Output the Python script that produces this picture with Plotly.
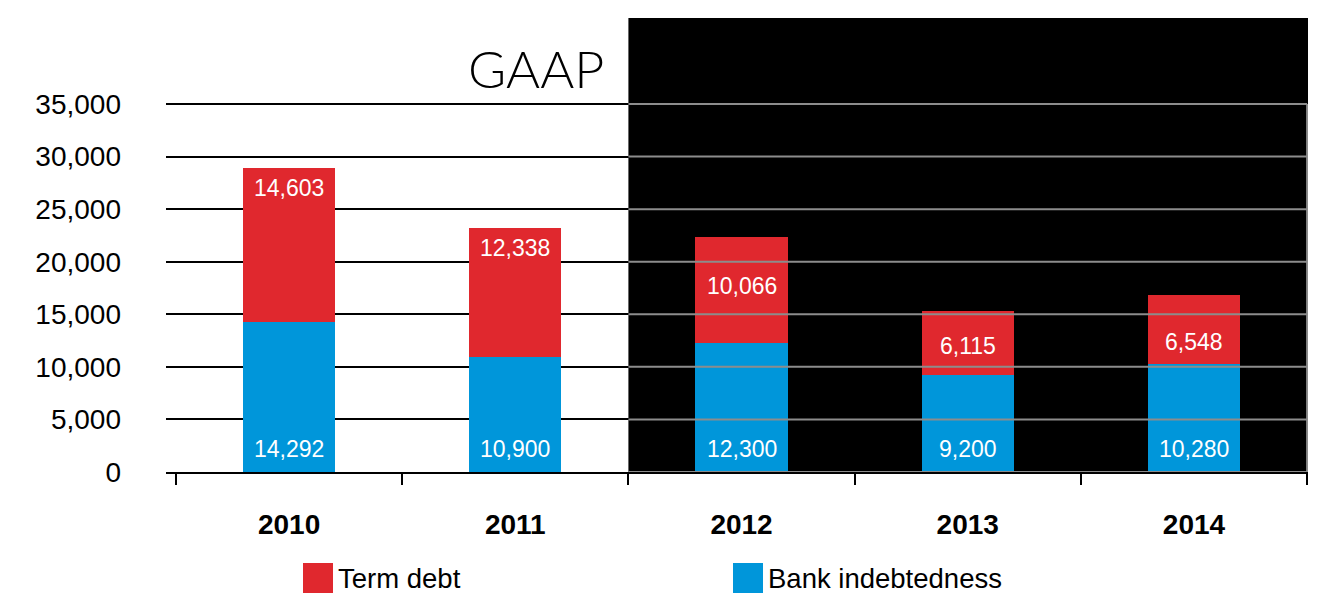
import plotly.graph_objects as go

# ---------------- data ----------------
years = ["2010", "2011", "2012", "2013", "2014"]
bank_indebtedness = [14292, 10900, 12300, 9200, 10280]
term_debt = [14603, 12338, 10066, 6115, 6548]
y_ticks = [0, 5000, 10000, 15000, 20000, 25000, 30000, 35000]
series_names = ["Term debt", "Bank indebtedness"]
title_text = "GAAP"

# ---------------- style ----------------
RED = "#E0282E"
BLUE = "#0096DA"
GRAY = "#8C8C8C"
FONT = "Liberation Sans, Arial, sans-serif"
W, H = 1320, 595
L, R, T, B = 166, 12, 18, 123
red_label_drop = [20, 20, 49, 35, 47]   # px below bar top for term-debt labels

xpos = list(range(len(years)))
x_range = [-0.544, len(years) - 0.496]
y_top = 35000 * (H - B - T) / 368.0
dark_from = 1.5  # category boundary where the dark panel starts

fig = go.Figure()
fig.add_trace(go.Bar(x=xpos, y=bank_indebtedness, name=series_names[1],
                     marker=dict(color=BLUE, line=dict(width=0)), width=0.407,
                     showlegend=False, hoverinfo="skip"))
fig.add_trace(go.Bar(x=xpos, y=term_debt, name=series_names[0],
                     marker=dict(color=RED, line=dict(width=0)), width=0.407,
                     showlegend=False, hoverinfo="skip"))

# value labels
for i, x in enumerate(xpos):
    fig.add_annotation(x=x, y=0, xref="x", yref="y", text=f"{bank_indebtedness[i]:,}",
                       showarrow=False, yanchor="bottom", yshift=8,
                       font=dict(family=FONT, size=23, color="white"))
    total = bank_indebtedness[i] + term_debt[i]
    fig.add_annotation(x=x, y=total, xref="x", yref="y", text=f"{term_debt[i]:,}",
                       showarrow=False, yanchor="middle", yshift=-red_label_drop[i],
                       font=dict(family=FONT, size=23, color="white"))

shapes = []
# dark panel
shapes.append(dict(type="rect", xref="x", yref="paper", x0=dark_from, x1=x_range[1],
                   y0=0, y1=1, fillcolor="black", line=dict(width=0), layer="below"))
# gray grid lines over the dark panel
for v in y_ticks:
    shapes.append(dict(type="line", xref="x", yref="y", x0=dark_from, x1=len(years) - 0.5,
                       y0=v, y1=v, line=dict(color=GRAY, width=2), layer="above"))
shapes.append(dict(type="line", xref="x", yref="y", x0=len(years) - 0.5, x1=len(years) - 0.5,
                   y0=0, y1=y_ticks[-1], line=dict(color=GRAY, width=2), layer="above"))

# legend (manual, to get large square keys)
def px_x(p):
    return (p - L) / (W - L - R)

def px_y(p):
    return (H - B - p) / (H - B - T)

legend_items = [(series_names[0], RED, 303), (series_names[1], BLUE, 733)]
for name, col, x0 in legend_items:
    shapes.append(dict(type="rect", xref="paper", yref="paper",
                       x0=px_x(x0), x1=px_x(x0 + 30), y0=px_y(563), y1=px_y(593),
                       fillcolor=col, line=dict(width=0)))
    fig.add_annotation(xref="paper", yref="paper", x=px_x(x0 + 33), y=px_y(578),
                       xanchor="left", yanchor="middle", text=name, showarrow=False,
                       font=dict(family=FONT, size=27.5, color="black"))

# title
fig.add_annotation(xref="paper", yref="paper", x=px_x(606), y=px_y(68),
                   xanchor="right", yanchor="middle", text=title_text, showarrow=False,
                   font=dict(family="Lato", size=52, color="black", weight=300))

fig.update_layout(
    width=W, height=H,
    margin=dict(l=L, r=R, t=T, b=B),
    barmode="stack",
    plot_bgcolor="white", paper_bgcolor="white",
    shapes=shapes,
    showlegend=False,
    xaxis=dict(range=x_range, tickmode="array", tickvals=xpos, ticktext=years,
               ticks="", showgrid=False, zeroline=False,
               showline=True, linecolor="black", linewidth=2,
               tickfont=dict(family=FONT, size=28, color="black", weight="bold"),
               ticklabelstandoff=26,
               minor=dict(tickmode="linear", tick0=-0.5, dtick=1, ticks="outside",
                          ticklen=11, tickwidth=2, tickcolor="black", showgrid=False)),
    yaxis=dict(range=[0, y_top], tickmode="array", tickvals=y_ticks,
               ticktext=[f"{v:,}" for v in y_ticks],
               showgrid=True, gridcolor="black", gridwidth=2, zeroline=False,
               showline=False, ticks="",
               tickfont=dict(family=FONT, size=28, color="black"),
               ticklabelstandoff=44),
)

fig.write_html("out.html")
